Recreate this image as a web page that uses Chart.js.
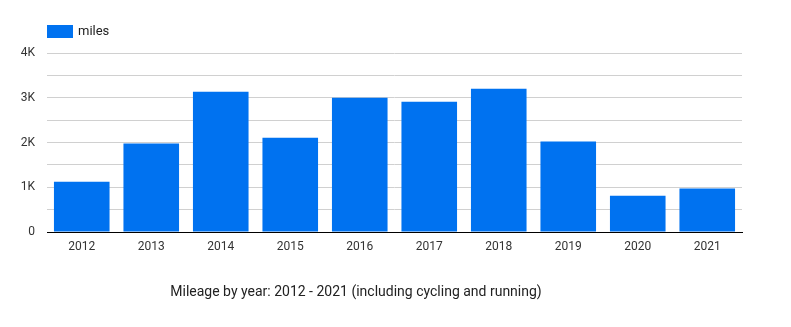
<!DOCTYPE html>
<html>
<head>
<meta charset="utf-8">
<script src="https://cdn.jsdelivr.net/npm/chart.js@4"></script>
<style>
  html, body { margin: 0; padding: 0; background: #fff; }
  #wrap { width: 791px; height: 327px; position: relative; }
</style>
</head>
<body>
<div id="wrap"><canvas id="barChart"></canvas></div>
<script>
const years = ['2012', '2013', '2014', '2015', '2016', '2017', '2018', '2019', '2020', '2021'];
const miles = [1125, 1975, 3135, 2105, 3000, 2910, 3200, 2020, 810, 970];
const seriesName = 'miles';
const chartTitle = 'Mileage by year: 2012 - 2021 (including cycling and running)';

const barColor = '#0072f0';

// legend box + title drawn by hand so they sit where the original puts them
const extraText = {
  id: 'extraText',
  afterDraw(chart) {
    const ctx = chart.ctx;
    const left = chart.chartArea.left;
    ctx.save();
    ctx.fillStyle = barColor;
    ctx.fillRect(left, 25, 26, 13);
    ctx.fillStyle = '#222';
    ctx.font = '13px Roboto';
    ctx.textBaseline = 'middle';
    ctx.textAlign = 'left';
    ctx.fillText(chart.data.datasets[0].label, left + 31, 31.5);
    ctx.font = '14px Roboto';
    ctx.textAlign = 'center';
    ctx.fillText(chartTitle, 356, 292);
    ctx.restore();
  }
};

const ctx = document.getElementById('barChart').getContext('2d');
const myBarChart = new Chart(ctx, {
  type: 'bar',
  data: {
    labels: years,
    datasets: [{
      label: seriesName,
      data: miles,
      backgroundColor: barColor,
      barPercentage: 0.8,
      categoryPercentage: 1.0
    }]
  },
  options: {
    responsive: true,
    maintainAspectRatio: false,
    animation: false,
    layout: { padding: { top: 53, right: 49, bottom: 0, left: 0 } },
    plugins: {
      legend: { display: false },
      title: { display: false },
      tooltip: { enabled: false }
    },
    scales: {
      x: {
        grid: { display: false, drawTicks: false },
        border: { color: '#000', width: 1 },
        ticks: { color: '#333', font: { family: 'Roboto', size: 12 }, padding: 8 },
        afterFit(scale) { scale.height = 95; }
      },
      y: {
        min: 0,
        max: 4000,
        grid: { color: '#d0d0d0', drawTicks: false },
        border: { display: false },
        ticks: {
          stepSize: 500,
          padding: 12,
          color: '#333',
          font: { family: 'Roboto', size: 12 },
          callback: v => v === 0 ? '0' : (v % 1000 === 0 ? (v / 1000) + 'K' : '')
        },
        afterFit(scale) { scale.width = 47; }
      }
    }
  },
  plugins: [extraText]
});
</script>
</body>
</html>
